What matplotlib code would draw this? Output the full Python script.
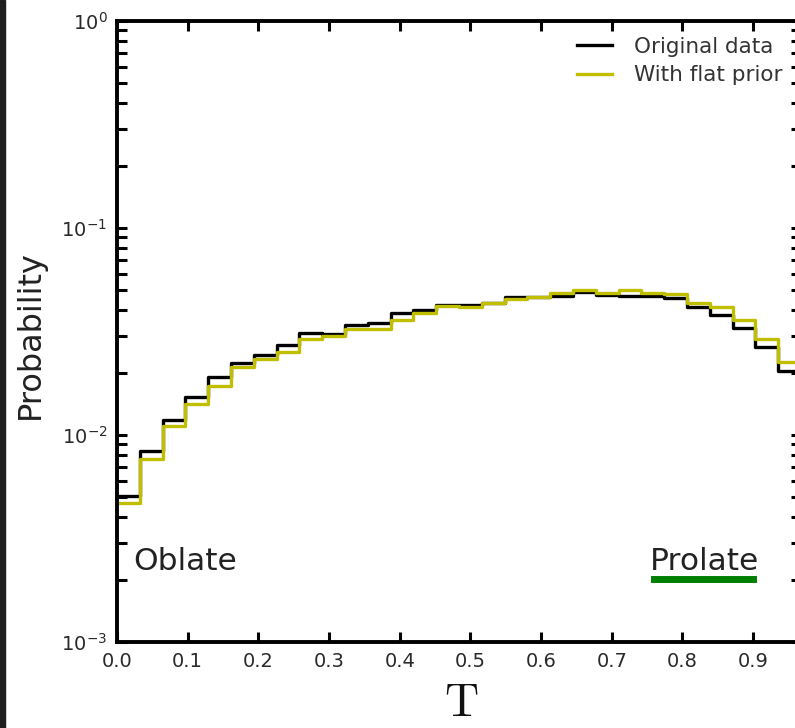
import numpy as np
import matplotlib
matplotlib.use("Agg")
import matplotlib.pyplot as plt
from matplotlib.patches import Rectangle
from matplotlib.ticker import LogLocator, NullFormatter

# ---- data ----
n_bins = 30
bin_edges = np.linspace(0.0, 30 / 31, n_bins + 1)
original = [0.00507, 0.00837, 0.01182, 0.01531, 0.01899, 0.02236, 0.02427, 0.02721,
            0.03098, 0.03064, 0.03387, 0.03488, 0.03873, 0.04018, 0.04250, 0.04246,
            0.04357, 0.04659, 0.04659, 0.04693, 0.04888, 0.04746, 0.04693, 0.04693,
            0.04571, 0.04168, 0.03800, 0.03276, 0.02652, 0.02046]
flat_prior = [0.00468, 0.00763, 0.01105, 0.01412, 0.01725, 0.02123, 0.02337, 0.02518,
              0.02897, 0.03008, 0.03240, 0.03240, 0.03594, 0.03873, 0.04200, 0.04136,
              0.04357, 0.04556, 0.04659, 0.04870, 0.05017, 0.04870, 0.05017, 0.04870,
              0.04799, 0.04325, 0.04136, 0.03594, 0.02900, 0.02261]
series_labels = ["Original data", "With flat prior"]
x_ticks = [0.0, 0.1, 0.2, 0.3, 0.4, 0.5, 0.6, 0.7, 0.8, 0.9]
prolate_bar_x = [0.76, 0.90]
prolate_bar_y = [0.00201, 0.00201]

W, H = 795, 728
fig = plt.figure(figsize=(W / 100, H / 100), dpi=100)
fig.patch.set_facecolor("white")
fig.patches.append(Rectangle((0, 0), 5 / W, 1, transform=fig.transFigure,
                             color="#1e1e1e", zorder=0))

left, right, top, bottom = 117, 801, 21, 642
ax = fig.add_axes([left / W, 1 - bottom / H, (right - left) / W, (bottom - top) / H])

ax.step(bin_edges, original + [original[-1]], where="post", color="black",
        lw=2.4, label=series_labels[0])
ax.step(bin_edges, flat_prior + [flat_prior[-1]], where="post", color="#bfbf00",
        lw=2.4, label=series_labels[1])
ax.plot(prolate_bar_x, prolate_bar_y, color="#007f00", lw=5)

ax.set_yscale("log")
ax.set_ylim(1e-3, 1)
ax.set_xlim(0, 30 / 31)
ax.set_xticks(x_ticks)
ax.set_xticklabels([f"{t:.1f}" for t in x_ticks])
ax.yaxis.set_major_locator(LogLocator(base=10, numticks=10))
ax.yaxis.set_minor_locator(LogLocator(base=10, subs=np.arange(2, 10), numticks=20))
ax.yaxis.set_minor_formatter(NullFormatter())

for s in ax.spines.values():
    s.set_linewidth(2.8)
ax.tick_params(which="both", direction="in", length=7.5, width=2.2,
               top=True, right=True, labelsize=14, labelcolor="#2a2a2a", pad=7)

ax.text(0.0226, 0.00223, "Oblate", fontsize=22.5, color="#222222")
ax.text(0.754, 0.00223, "Prolate", fontsize=22.5, color="#222222")

leg = ax.legend(loc="upper right", bbox_to_anchor=(783 / W, 1 - 37 / H),
                bbox_transform=fig.transFigure, frameon=False, fontsize=15.5,
                borderpad=0, borderaxespad=0, handlelength=1.63,
                handletextpad=1.05, labelspacing=0.38)
for t in leg.get_texts():
    t.set_color("#333333")

fig.text(30 / W, 1 - 335 / H, "Probability", rotation=90, ha="center",
         va="center", fontsize=23, color="#222222")
fig.text(461 / W, 1 - 704 / H, r"$\mathrm{T}$", ha="center", va="center",
         fontsize=34, color="#111111", math_fontfamily="cm")

fig.savefig("out.png", dpi=100)
